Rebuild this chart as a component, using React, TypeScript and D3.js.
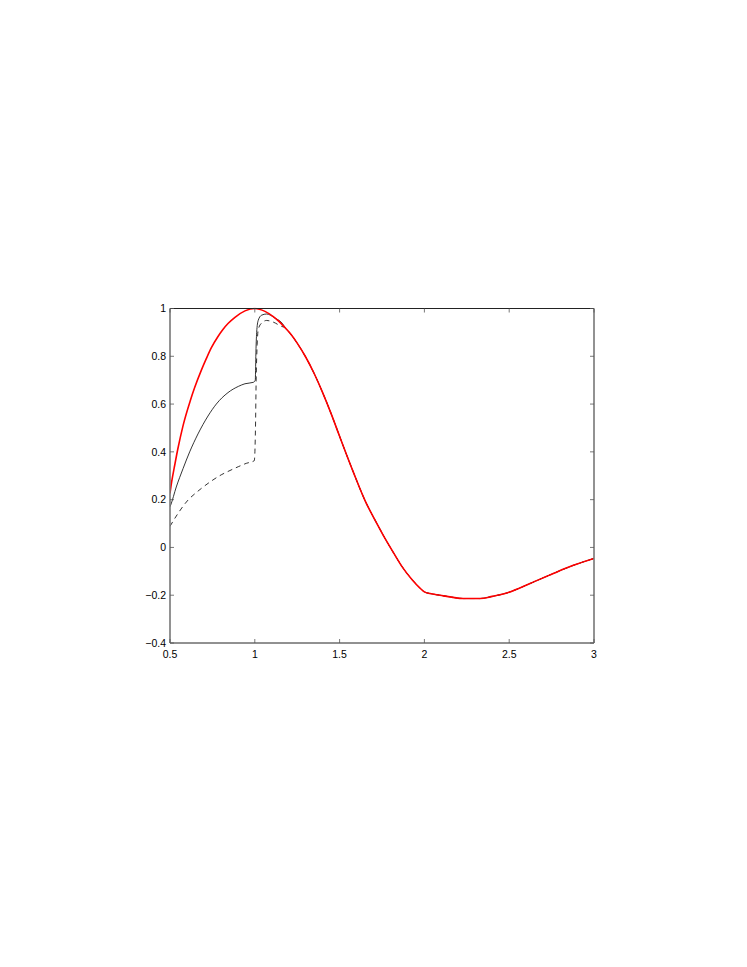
import React from "react";
import * as d3 from "d3";

// Exact (red) curve
const redX = [0.5, 0.51, 0.528, 0.547, 0.577, 0.62, 0.646, 0.685, 0.714, 0.744, 0.783, 0.812, 0.842, 0.883, 0.942, 1.0, 1.06, 1.109, 1.139, 1.178, 1.207, 1.25, 1.3, 1.35, 1.4, 1.45, 1.5, 1.581, 1.65, 1.72, 1.778, 1.82, 1.865, 1.93, 1.974, 2.0, 2.033, 2.092, 2.16, 2.229, 2.328, 2.4, 2.485, 2.623, 2.76, 2.878, 3.0];
const redY = [0.226, 0.275, 0.345, 0.415, 0.51, 0.615, 0.67, 0.742, 0.79, 0.836, 0.883, 0.912, 0.937, 0.963, 0.99, 1.0, 0.988, 0.966, 0.948, 0.92, 0.897, 0.855, 0.797, 0.728, 0.648, 0.56, 0.465, 0.315, 0.196, 0.1, 0.025, -0.025, -0.077, -0.137, -0.17, -0.186, -0.193, -0.2, -0.208, -0.214, -0.214, -0.205, -0.191, -0.151, -0.109, -0.075, -0.046];

// Solid black approximation (before it merges with the red curve)
const solidX = [0.5, 0.504, 0.537, 0.577, 0.616, 0.665, 0.724, 0.773, 0.842, 0.903, 0.942, 0.991, 1.003, 1.006, 1.011, 1.02, 1.04, 1.07, 1.119, 1.168];
const solidY = [0.17, 0.177, 0.253, 0.33, 0.4, 0.475, 0.55, 0.6, 0.648, 0.674, 0.685, 0.691, 0.7, 0.8, 0.9, 0.95, 0.972, 0.977, 0.96, 0.932];

// Dashed black approximation
const dashX = [0.5, 0.504, 0.547, 0.606, 0.647, 0.685, 0.744, 0.805, 0.842, 0.903, 0.95, 0.997, 1.004, 1.008, 1.014, 1.02, 1.04, 1.07, 1.109, 1.158];
const dashY = [0.088, 0.093, 0.142, 0.198, 0.225, 0.247, 0.278, 0.305, 0.318, 0.338, 0.352, 0.363, 0.5, 0.7, 0.85, 0.911, 0.939, 0.95, 0.943, 0.925];

const xTicks = [0.5, 1, 1.5, 2, 2.5, 3];
const xTickLabels = ["0.5", "1", "1.5", "2", "2.5", "3"];
const yTicks = [-0.4, -0.2, 0, 0.2, 0.4, 0.6, 0.8, 1];
const yTickLabels = ["\u22120.4", "\u22120.2", "0", "0.2", "0.4", "0.6", "0.8", "1"];

type P = [number, number];
const zip = (xs: number[], ys: number[]): P[] => xs.map((x, i) => [x, ys[i]]);

export default function App() {
  const left = 170, right = 594, top = 308.5, bottom = 643;
  const x = d3.scaleLinear().domain([0.5, 3]).range([left, right]);
  const y = d3.scaleLinear().domain([-0.4, 1]).range([bottom, top]);
  const line = d3.line<P>().x(d => x(d[0])).y(d => y(d[1])).curve(d3.curveMonotoneX);

  const red = zip(redX, redY);
  const tailFrom = (x0: number) => red.filter(d => d[0] > x0);
  const solid = zip(solidX, solidY).concat(tailFrom(solidX[solidX.length - 1]));
  const dashed = zip(dashX, dashY).concat(tailFrom(dashX[dashX.length - 1]));

  const font = "'Liberation Sans', Arial, Helvetica, sans-serif";
  const tl = 4;

  return (
    <svg width={747} height={967} style={{ position: "absolute", left: 0, top: 0, background: "#fff" }}>
      <rect x={0} y={0} width={747} height={967} fill="#fff" />
      <defs>
        <clipPath id="clip">
          <rect x={left} y={top - 1} width={right - left} height={bottom - top + 2} />
        </clipPath>
      </defs>
      <g clipPath="url(#clip)">
        <path d={line(dashed) || ""} fill="none" stroke="#000" strokeWidth={0.8} strokeDasharray="5,4" />
        <path d={line(solid) || ""} fill="none" stroke="#000" strokeWidth={0.8} />
        <path d={line(red) || ""} fill="none" stroke="#ff0000" strokeWidth={1.6} />
      </g>
      {/* frame */}
      <line x1={left} x2={right} y1={top} y2={top} stroke="#222" strokeWidth={1} />
      <line x1={left} x2={right} y1={bottom} y2={bottom} stroke="#222" strokeWidth={1} />
      <line x1={left} x2={left} y1={top} y2={bottom} stroke="#777" strokeWidth={1.6} />
      <line x1={right} x2={right} y1={top} y2={bottom} stroke="#777" strokeWidth={1.6} />
      {xTicks.map((t, i) => (
        <g key={"x" + i}>
          <line x1={x(t)} x2={x(t)} y1={bottom} y2={bottom - tl} stroke="#555" strokeWidth={0.8} />
          <line x1={x(t)} x2={x(t)} y1={top} y2={top + tl} stroke="#555" strokeWidth={0.8} />
          <text x={x(t)} y={bottom + 15} textAnchor="middle" fontFamily={font} fontSize={10.5} fill="#000">
            {xTickLabels[i]}
          </text>
        </g>
      ))}
      {yTicks.map((t, i) => (
        <g key={"y" + i}>
          <line x1={left} x2={left + tl} y1={y(t)} y2={y(t)} stroke="#555" strokeWidth={0.8} />
          <line x1={right} x2={right - tl} y1={y(t)} y2={y(t)} stroke="#555" strokeWidth={0.8} />
          <text x={left - 4} y={y(t) + 3.7} textAnchor="end" fontFamily={font} fontSize={10.5} fill="#000">
            {yTickLabels[i]}
          </text>
        </g>
      ))}
    </svg>
  );
}
